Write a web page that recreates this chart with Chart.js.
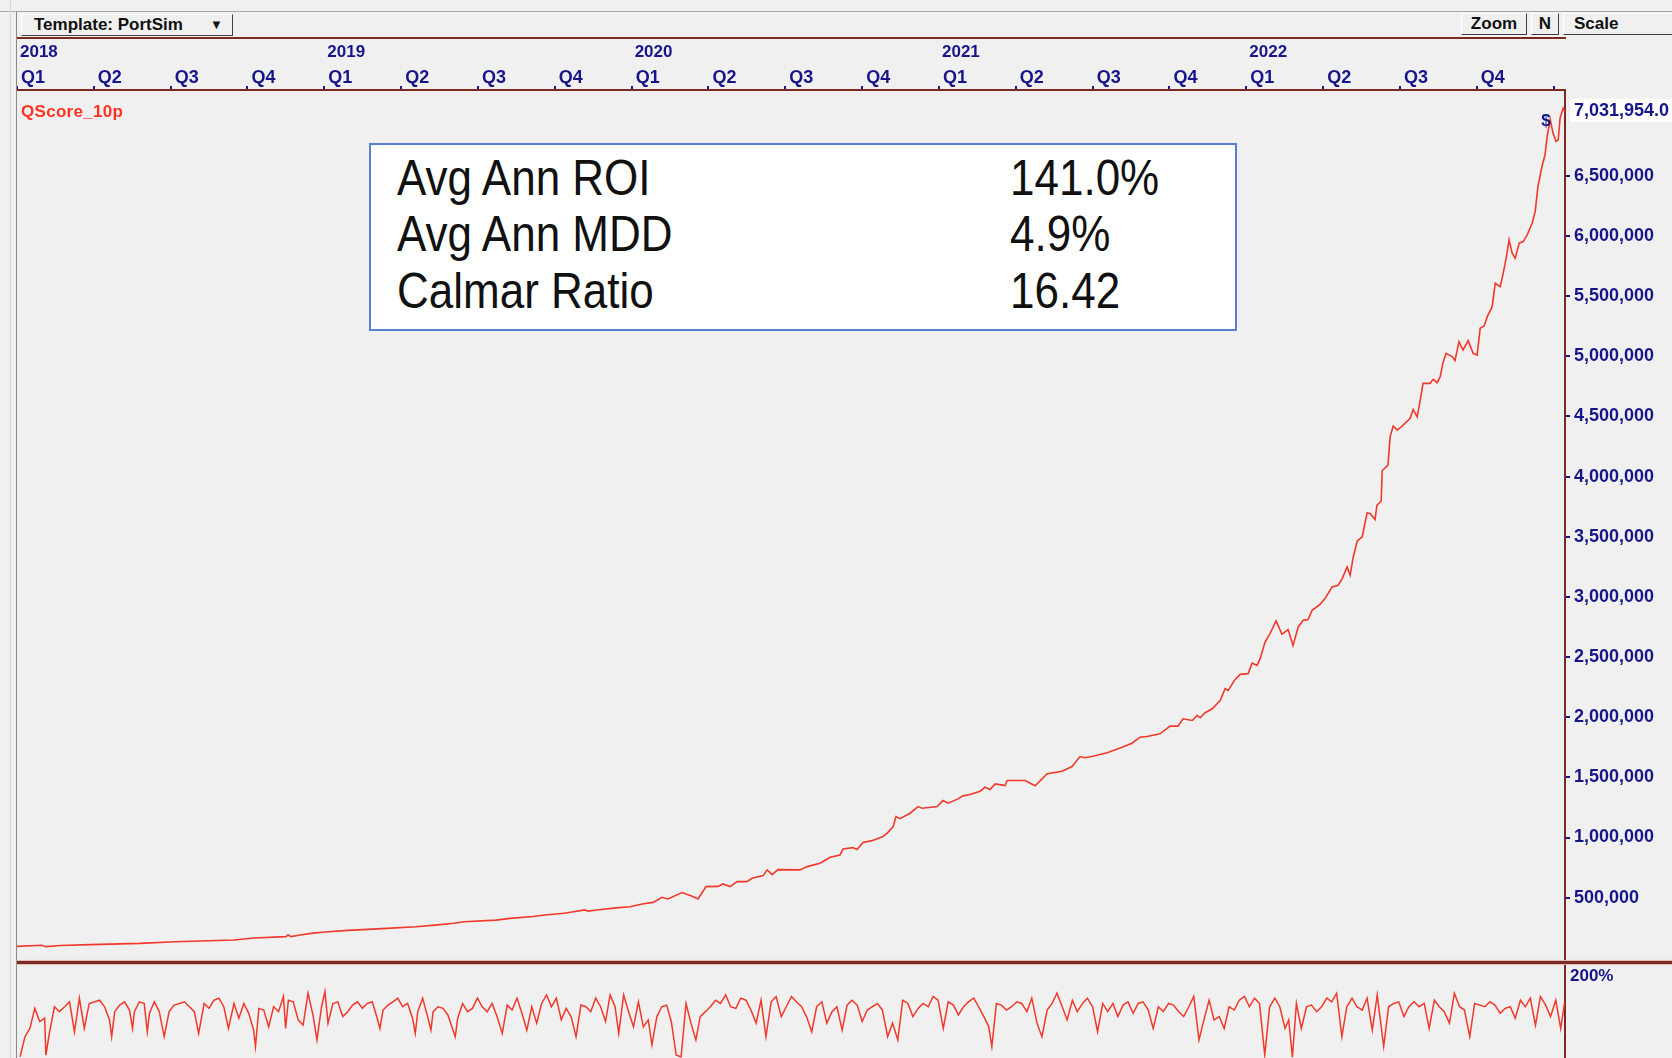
<!DOCTYPE html>
<html>
<head>
<meta charset="utf-8">
<script src="https://cdn.jsdelivr.net/npm/chart.js@4.4.0/dist/chart.umd.min.js"></script>
<style>
  body { margin: 0; width: 1672px; height: 1058px; overflow: hidden; position: relative;
         background: #f0f0f0; font-family: "Liberation Sans", Arial, sans-serif; }
  canvas { position: absolute; left: 0; }
  #mainChart { top: 0; }
  #oscChart { top: 963px; }
  .abs { position: absolute; }
  .btn { position: absolute; background: #f0f0f0; border: 1px solid; border-color: #ffffff #404040 #404040 #ffffff;
         box-sizing: border-box; font-weight: bold; font-size: 17px; color: #101010; line-height: 19px; }
  .stats { position: absolute; left: 369px; top: 143px; width: 868px; height: 188px; box-sizing: border-box;
           background: #ffffff; border: 2px solid #5b7fcf; }
  .stats div { position: absolute; font-size: 44px; color: #111; transform: scaleY(1.15); transform-origin: 0 50%; line-height: 50px; }
</style>
</head>
<body>
<canvas id="mainChart" width="1672" height="963"></canvas>
<canvas id="oscChart" width="1672" height="95"></canvas>

<!-- frame and header -->
<div class="abs" style="left:0;top:11px;width:1672px;height:1px;background:#a8a8a8"></div>
<div class="abs" style="left:10px;top:0;width:1px;height:1058px;background:#d8d8d8"></div>
<div class="abs" style="left:16px;top:11px;width:1px;height:1047px;background:#8a8a8a"></div>
<div class="abs" style="left:17px;top:37px;width:1549px;height:2px;background:#7a2a22"></div>
<div class="abs" style="left:17px;top:961px;width:1655px;height:3px;background:#7a2a22;box-shadow:0 1px 1px #e0b8b0,0 -1px 1px #e0b8b0"></div>

<div class="btn" style="left:21px;top:14px;width:212px;height:22px;padding-left:12px">Template: PortSim<span style="position:absolute;left:188px;top:0;font-size:13px">&#9660;</span></div>
<div class="btn" style="left:1461px;top:13px;width:66px;height:22px;text-align:center">Zoom</div>
<div class="btn" style="left:1531px;top:13px;width:28px;height:22px;text-align:center">N</div>
<div class="btn" style="left:1563px;top:13px;width:120px;height:22px;padding-left:10px">Scale</div>

<div class="abs" style="left:21px;top:102px;font-size:17px;font-weight:bold;color:#ff3322;letter-spacing:0.3px">QScore_10p</div>

<div class="stats">
  <div style="left:26px;top:8px">Avg Ann ROI</div>
  <div style="left:26px;top:64px">Avg Ann MDD</div>
  <div style="left:26px;top:121px">Calmar Ratio</div>
  <div style="left:639px;top:8px">141.0%</div>
  <div style="left:639px;top:64px">4.9%</div>
  <div style="left:639px;top:121px">16.42</div>
</div>

<script>
// equity curve (fractional years, dollars)
const equityDates = [
  2018.000, 2018.081, 2018.094, 2018.140, 2018.238, 2018.400, 2018.514, 2018.706, 2018.771, 2018.875,
  2018.882, 2018.892, 2018.921, 2018.963, 2019.002, 2019.077, 2019.188, 2019.298, 2019.360, 2019.422,
  2019.455, 2019.559, 2019.604, 2019.679, 2019.718, 2019.780, 2019.816, 2019.848, 2019.858, 2019.887,
  2019.949, 2019.995, 2020.034, 2020.070, 2020.099, 2020.118, 2020.164, 2020.197, 2020.216, 2020.242,
  2020.281, 2020.297, 2020.320, 2020.343, 2020.375, 2020.392, 2020.428, 2020.441, 2020.457, 2020.476,
  2020.548, 2020.571, 2020.613, 2020.646, 2020.678, 2020.688, 2020.720, 2020.733, 2020.753, 2020.782,
  2020.818, 2020.834, 2020.851, 2020.860, 2020.873, 2020.906, 2020.932, 2020.945, 2020.994, 2021.013,
  2021.030, 2021.062, 2021.078, 2021.101, 2021.134, 2021.150, 2021.166, 2021.183, 2021.215, 2021.222,
  2021.280, 2021.313, 2021.352, 2021.401, 2021.433, 2021.459, 2021.475, 2021.501, 2021.547, 2021.596,
  2021.628, 2021.654, 2021.677, 2021.719, 2021.752, 2021.778, 2021.794, 2021.824, 2021.840, 2021.850,
  2021.866, 2021.889, 2021.915, 2021.931, 2021.941, 2021.963, 2021.980, 2022.006, 2022.019, 2022.035,
  2022.045, 2022.061, 2022.077, 2022.097, 2022.116, 2022.136, 2022.152, 2022.169, 2022.185, 2022.201,
  2022.214, 2022.240, 2022.256, 2022.279, 2022.299, 2022.312, 2022.328, 2022.338, 2022.348, 2022.361,
  2022.377, 2022.393, 2022.403, 2022.419, 2022.425, 2022.439, 2022.442, 2022.461, 2022.468, 2022.478,
  2022.491, 2022.507, 2022.533, 2022.543, 2022.556, 2022.566, 2022.575, 2022.598, 2022.608, 2022.621,
  2022.631, 2022.640, 2022.650, 2022.670, 2022.679, 2022.692, 2022.705, 2022.722, 2022.738, 2022.751,
  2022.761, 2022.774, 2022.784, 2022.800, 2022.810, 2022.826, 2022.836, 2022.845, 2022.855, 2022.865,
  2022.875, 2022.888, 2022.901, 2022.914, 2022.930, 2022.940, 2022.949, 2022.962, 2022.972, 2022.979,
  2022.989, 2022.998, 2023.008, 2023.015, 2023.021, 2023.031, 2023.037
];
const equityValues = [
  95000, 104000, 93000, 103000, 110000, 120000, 134000, 148000, 165000, 176000,
  190000, 176000, 190000, 205000, 215000, 228000, 243000, 258000, 272000, 288000,
  300000, 313000, 328000, 343000, 356000, 370000, 385000, 398000, 388000, 398000,
  415000, 425000, 448000, 461000, 503000, 489000, 542000, 511000, 489000, 592000,
  594000, 614000, 592000, 633000, 633000, 661000, 683000, 731000, 692000, 733000,
  731000, 758000, 786000, 836000, 855000, 905000, 916000, 900000, 958000, 974000,
  1008000, 1043000, 1091000, 1174000, 1157000, 1202000, 1257000, 1243000, 1257000, 1307000,
  1285000, 1321000, 1346000, 1357000, 1385000, 1418000, 1399000, 1446000, 1432000, 1474000,
  1474000, 1430000, 1530000, 1551000, 1590000, 1673000, 1663000, 1676000, 1704000, 1751000,
  1784000, 1834000, 1840000, 1862000, 1926000, 1926000, 1987000, 1973000, 2015000, 1995000,
  2037000, 2070000, 2139000, 2237000, 2223000, 2312000, 2356000, 2362000, 2450000, 2431000,
  2487000, 2625000, 2695000, 2800000, 2689000, 2728000, 2597000, 2750000, 2805000, 2811000,
  2889000, 2938000, 2986000, 3082000, 3097000, 3152000, 3249000, 3180000, 3332000, 3465000,
  3498000, 3698000, 3693000, 3643000, 3762000, 3795000, 4048000, 4095000, 4331000, 4420000,
  4386000, 4420000, 4484000, 4558000, 4497000, 4636000, 4775000, 4775000, 4808000, 4780000,
  4830000, 4947000, 5024000, 4997000, 4964000, 5121000, 5052000, 5129000, 5024000, 5010000,
  5232000, 5252000, 5329000, 5412000, 5607000, 5579000, 5690000, 5807000, 5967000, 5857000,
  5815000, 5940000, 5953000, 6009000, 6106000, 6203000, 6411000, 6577000, 6674000, 6827000,
  6966000, 6855000, 6785000, 6799000, 6980000, 7063000, 7031954
];
const lastValueText = "7,031,954.0";

// signal marker on the curve
const signalDates = [2022.975];
const signalValues = [6950000];
const signalText = "$";

// lower oscillator (fractional years, percent)
const oscDates = [
  2018.010, 2018.026, 2018.042, 2018.058, 2018.074, 2018.090, 2018.094, 2018.106, 2018.122, 2018.138,
  2018.155, 2018.171, 2018.187, 2018.203, 2018.219, 2018.235, 2018.253, 2018.269, 2018.285, 2018.301,
  2018.308, 2018.318, 2018.334, 2018.350, 2018.366, 2018.376, 2018.382, 2018.398, 2018.414, 2018.424,
  2018.431, 2018.447, 2018.463, 2018.479, 2018.495, 2018.511, 2018.529, 2018.545, 2018.561, 2018.577,
  2018.591, 2018.609, 2018.625, 2018.641, 2018.657, 2018.673, 2018.688, 2018.706, 2018.722, 2018.738,
  2018.754, 2018.770, 2018.776, 2018.787, 2018.803, 2018.819, 2018.835, 2018.851, 2018.867, 2018.874,
  2018.883, 2018.899, 2018.915, 2018.931, 2018.947, 2018.963, 2018.976, 2018.991, 2019.002, 2019.012,
  2019.028, 2019.044, 2019.060, 2019.076, 2019.092, 2019.108, 2019.124, 2019.140, 2019.156, 2019.172,
  2019.181, 2019.191, 2019.207, 2019.223, 2019.239, 2019.255, 2019.271, 2019.287, 2019.296, 2019.304,
  2019.320, 2019.336, 2019.347, 2019.354, 2019.370, 2019.386, 2019.402, 2019.426, 2019.434, 2019.450,
  2019.466, 2019.482, 2019.498, 2019.514, 2019.530, 2019.546, 2019.562, 2019.579, 2019.595, 2019.611,
  2019.627, 2019.643, 2019.659, 2019.675, 2019.691, 2019.707, 2019.723, 2019.739, 2019.755, 2019.771,
  2019.787, 2019.803, 2019.819, 2019.835, 2019.851, 2019.867, 2019.883, 2019.899, 2019.915, 2019.930,
  2019.946, 2019.958, 2019.974, 2019.990, 2020.006, 2020.022, 2020.038, 2020.054, 2020.066, 2020.082,
  2020.098, 2020.114, 2020.129, 2020.145, 2020.161, 2020.177, 2020.193, 2020.209, 2020.223, 2020.240,
  2020.256, 2020.273, 2020.289, 2020.306, 2020.322, 2020.339, 2020.355, 2020.372, 2020.388, 2020.405,
  2020.421, 2020.437, 2020.454, 2020.470, 2020.487, 2020.503, 2020.520, 2020.536, 2020.553, 2020.569,
  2020.586, 2020.602, 2020.619, 2020.635, 2020.652, 2020.668, 2020.685, 2020.701, 2020.717, 2020.734,
  2020.750, 2020.767, 2020.783, 2020.800, 2020.816, 2020.833, 2020.849, 2020.866, 2020.882, 2020.899,
  2020.915, 2020.932, 2020.948, 2020.965, 2020.981, 2020.997, 2021.014, 2021.030, 2021.047, 2021.063,
  2021.080, 2021.096, 2021.113, 2021.129, 2021.146, 2021.162, 2021.172, 2021.187, 2021.203, 2021.220,
  2021.236, 2021.253, 2021.269, 2021.286, 2021.302, 2021.319, 2021.335, 2021.352, 2021.368, 2021.384,
  2021.401, 2021.417, 2021.434, 2021.450, 2021.467, 2021.483, 2021.500, 2021.516, 2021.533, 2021.549,
  2021.566, 2021.582, 2021.599, 2021.615, 2021.632, 2021.648, 2021.664, 2021.681, 2021.697, 2021.714,
  2021.730, 2021.747, 2021.763, 2021.780, 2021.796, 2021.813, 2021.829, 2021.846, 2021.862, 2021.879,
  2021.895, 2021.912, 2021.928, 2021.944, 2021.961, 2021.977, 2021.994, 2022.010, 2022.027, 2022.043,
  2022.060, 2022.076, 2022.093, 2022.109, 2022.126, 2022.138, 2022.150, 2022.163, 2022.179, 2022.196,
  2022.212, 2022.229, 2022.245, 2022.262, 2022.278, 2022.294, 2022.311, 2022.327, 2022.344, 2022.360,
  2022.377, 2022.393, 2022.410, 2022.426, 2022.447, 2022.463, 2022.480, 2022.496, 2022.513, 2022.529,
  2022.546, 2022.562, 2022.579, 2022.595, 2022.612, 2022.628, 2022.644, 2022.661, 2022.677, 2022.694,
  2022.710, 2022.727, 2022.743, 2022.760, 2022.776, 2022.793, 2022.809, 2022.826, 2022.842, 2022.859,
  2022.875, 2022.892, 2022.908, 2022.924, 2022.941, 2022.957, 2022.974, 2022.990, 2023.007, 2023.023,
  2023.036
];
const oscValues = [
  3, 52, 72, 121, 89, 97, 7, 64, 125, 113,
  125, 137, 64, 146, 72, 133, 137, 141, 125, 93,
  52, 113, 129, 137, 117, 72, 113, 137, 133, 64,
  109, 137, 113, 52, 113, 129, 133, 137, 125, 113,
  60, 133, 121, 141, 146, 125, 72, 133, 97, 133,
  109, 68, 28, 121, 117, 76, 125, 113, 150, 72,
  141, 137, 93, 80, 158, 105, 44, 125, 162, 85,
  133, 137, 101, 113, 129, 137, 121, 133, 137, 97,
  72, 117, 129, 137, 146, 125, 133, 97, 60, 113,
  146, 101, 68, 113, 125, 121, 105, 52, 97, 133,
  113, 121, 146, 125, 113, 133, 101, 60, 129, 117,
  146, 109, 68, 125, 85, 133, 154, 125, 146, 93,
  121, 101, 52, 129, 125, 113, 146, 125, 89, 154,
  125, 60, 154, 113, 76, 137, 76, 93, 32, 101,
  125, 129, 89, 7, 3, 133, 85, 44, 101, 113,
  125, 141, 133, 154, 125, 121, 146, 141, 117, 85,
  141, 52, 137, 150, 101, 125, 150, 137, 125, 101,
  64, 125, 137, 85, 113, 125, 68, 129, 141, 129,
  89, 117, 125, 133, 117, 52, 85, 44, 141, 133,
  101, 121, 133, 125, 150, 141, 72, 137, 129, 105,
  125, 137, 146, 125, 101, 76, 28, 133, 129, 117,
  125, 137, 133, 113, 146, 85, 52, 117, 133, 158,
  125, 93, 141, 113, 133, 146, 125, 64, 133, 113,
  133, 101, 129, 137, 109, 133, 137, 117, 72, 125,
  113, 133, 129, 113, 101, 125, 150, 44, 93, 141,
  93, 101, 72, 125, 117, 141, 150, 125, 146, 133,
  7, 125, 146, 125, 72, 93, 2, 133, 72, 125,
  129, 113, 125, 146, 137, 158, 52, 125, 146, 125,
  117, 146, 68, 154, 28, 125, 133, 137, 101, 125,
  137, 125, 133, 72, 141, 125, 113, 85, 158, 125,
  117, 52, 133, 129, 125, 137, 129, 109, 121, 125,
  97, 141, 125, 146, 80, 150, 129, 101, 141, 72,
  137
];
const oscTickValues = [200];
const oscTickText = ["200%"];

// axes
const xMin = 2018.0;
const xMax = 2023.037;
const quarterValues = [2018, 2018.25, 2018.5, 2018.75, 2019, 2019.25, 2019.5, 2019.75, 2020, 2020.25, 2020.5,
  2020.75, 2021, 2021.25, 2021.5, 2021.75, 2022, 2022.25, 2022.5, 2022.75, 2023];
const quarterLabels = ["Q1", "Q2", "Q3", "Q4"];
const yearValues = [2018, 2019, 2020, 2021, 2022];
const yearLabels = ["2018", "2019", "2020", "2021", "2022"];
const yTickValues = [500000, 1000000, 1500000, 2000000, 2500000, 3000000, 3500000,
  4000000, 4500000, 5000000, 5500000, 6000000, 6500000];

const NAVY = "#16168a";
const RED = "#f0392a";
const BROWN = "#7a2a22";
const FONT = "'Liberation Sans', Arial, sans-serif";

// no extra room for half labels at the axis ends
function noPad(s) {
  s.paddingTop = 0;
  s.paddingBottom = 0;
  s.paddingLeft = 0;
  s.paddingRight = 0;
}

// draws the last value box and the signal marker
const overlayPlugin = {
  id: "overlay",
  afterDraw(chart) {
    const ctx = chart.ctx;
    const yScale = chart.scales.y;
    const xScale = chart.scales.x;
    const lastY = yScale.getPixelForValue(equityValues[equityValues.length - 1]);
    ctx.save();
    ctx.fillStyle = "#ffffff";
    ctx.fillRect(yScale.left + 5, lastY - 13, chart.width - yScale.left - 5, 23);
    ctx.fillStyle = NAVY;
    ctx.font = "bold 18px " + FONT;
    ctx.textBaseline = "middle";
    ctx.textAlign = "left";
    ctx.fillText(lastValueText, yScale.left + 9, lastY - 1);
    ctx.font = "bold 17px " + FONT;
    ctx.textAlign = "center";
    signalDates.forEach((d, i) => {
      ctx.fillText(signalText, xScale.getPixelForValue(d), yScale.getPixelForValue(signalValues[i]));
    });
    ctx.restore();
  }
};

function drawMainChart() {
  const ctx = document.getElementById("mainChart").getContext("2d");
  new Chart(ctx, {
    type: "line",
    data: {
      datasets: [{
        label: "QScore_10p",
        data: equityDates.map((d, i) => ({ x: d, y: equityValues[i] })),
        borderColor: RED,
        borderWidth: 1.6,
        pointRadius: 0,
        tension: 0,
        fill: false,
      }],
    },
    options: {
      responsive: false,
      animation: false,
      events: [],
      layout: { padding: { left: 17, top: 38, right: 0, bottom: 0 } },
      plugins: { legend: { display: false }, tooltip: { enabled: false } },
      scales: {
        x: {
          type: "linear", position: "top", min: xMin, max: xMax, bounds: "data", weight: 0,
          afterBuildTicks: (s) => { s.ticks = quarterValues.map((v) => ({ value: v })); },
          afterFit: (s) => { s.height = 28; noPad(s); },
          ticks: {
            callback: (v, i) => (i < quarterValues.length - 1 ? quarterLabels[i % 4] : ""),
            align: "start", labelOffset: 4, padding: -3, maxRotation: 0, autoSkip: false,
            color: NAVY, font: { family: FONT, size: 18, weight: "bold" },
          },
          grid: { drawOnChartArea: false, drawTicks: true, tickLength: 4, color: NAVY, lineWidth: 2 },
          border: { display: true, color: BROWN, width: 2 },
        },
        x2: {
          type: "linear", position: "top", min: xMin, max: xMax, bounds: "data", weight: 1,
          afterBuildTicks: (s) => { s.ticks = yearValues.map((v) => ({ value: v })); },
          afterFit: (s) => { s.height = 24; noPad(s); },
          ticks: {
            callback: (v, i) => yearLabels[i],
            align: "start", labelOffset: 3, padding: -1, maxRotation: 0, autoSkip: false,
            color: NAVY, font: { family: FONT, size: 17, weight: "bold" },
          },
          grid: { display: false, drawTicks: false },
          border: { display: false },
        },
        y: {
          type: "linear", position: "right", min: -43000, max: 7213000, bounds: "data",
          afterBuildTicks: (s) => { s.ticks = yTickValues.map((v) => ({ value: v })); },
          afterFit: (s) => { s.width = 107; noPad(s); },
          ticks: {
            callback: (v) => v.toLocaleString("en-US"),
            padding: 4, crossAlign: "near", color: NAVY,
            font: { family: FONT, size: 18, weight: "bold" },
          },
          grid: { drawOnChartArea: false, drawTicks: true, tickLength: 5, color: NAVY, lineWidth: 2 },
          border: { display: true, color: BROWN, width: 2 },
        },
      },
    },
    plugins: [overlayPlugin],
  });
}

function drawOscChart() {
  const ctx = document.getElementById("oscChart").getContext("2d");
  new Chart(ctx, {
    type: "line",
    data: {
      datasets: [{
        data: oscDates.map((d, i) => ({ x: d, y: oscValues[i] })),
        borderColor: RED,
        borderWidth: 1.5,
        pointRadius: 0,
        tension: 0,
        fill: false,
      }],
    },
    options: {
      responsive: false,
      animation: false,
      events: [],
      layout: { padding: { left: 17, top: 0, right: 0, bottom: 0 } },
      plugins: { legend: { display: false }, tooltip: { enabled: false } },
      scales: {
        x: { type: "linear", min: xMin, max: xMax, display: false },
        y: {
          type: "linear", position: "right", min: 0, max: 231.7, bounds: "data",
          afterBuildTicks: (s) => { s.ticks = oscTickValues.map((v) => ({ value: v })); },
          afterFit: (s) => { s.width = 107; noPad(s); },
          ticks: {
            callback: (v, i) => oscTickText[i],
            padding: 5, crossAlign: "near", color: NAVY,
            font: { family: FONT, size: 17, weight: "bold" },
          },
          grid: { drawOnChartArea: false, drawTicks: false },
          border: { display: true, color: BROWN, width: 2 },
        },
      },
    },
  });
}

window.onload = function () {
  drawMainChart();
  drawOscChart();
};
</script>
</body>
</html>
